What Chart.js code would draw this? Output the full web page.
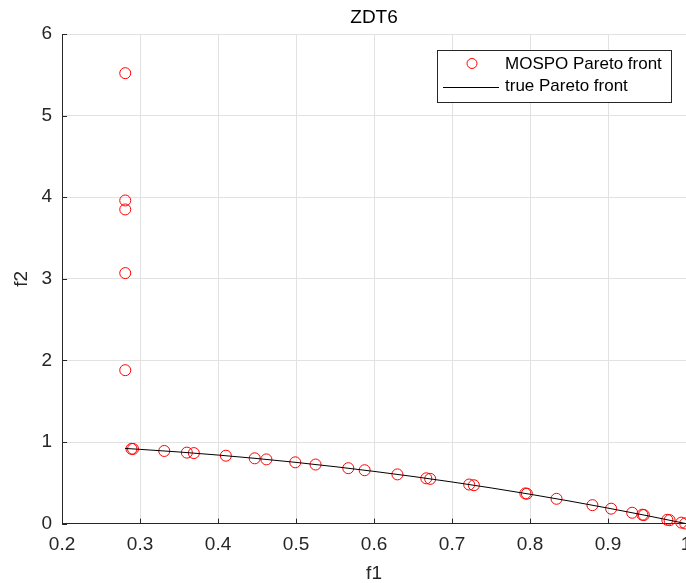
<!DOCTYPE html>
<html>
<head>
<meta charset="utf-8">
<title>ZDT6</title>
<script src="https://cdn.jsdelivr.net/npm/chart.js@4.4.1/dist/chart.umd.min.js"></script>
<style>
  html, body { margin: 0; padding: 0; background: #fff; overflow: hidden; }
  #wrap { position: relative; width: 720px; height: 583px; }
</style>
</head>
<body>
<div id="wrap"><canvas id="zdt6" width="720" height="583"></canvas></div>
<script>
// MOSPO solutions (f1, f2)
const moF1 = [0.281, 0.281, 0.281, 0.281, 0.281,
  0.289, 0.291, 0.331, 0.360, 0.369, 0.410, 0.447, 0.462, 0.499, 0.525,
  0.567, 0.588, 0.630, 0.667, 0.672, 0.722, 0.728, 0.794, 0.796, 0.834,
  0.880, 0.904, 0.931, 0.944, 0.946, 0.976, 0.979, 0.994, 0.999];
const moF2 = [5.52, 3.96, 3.85, 3.07, 1.88,
  0.916, 0.915, 0.890, 0.870, 0.864, 0.832, 0.800, 0.787, 0.751, 0.724,
  0.679, 0.654, 0.603, 0.555, 0.548, 0.479, 0.470, 0.370, 0.366, 0.304,
  0.226, 0.183, 0.133, 0.109, 0.105, 0.047, 0.042, 0.012, 0.002];

// true front samples
const trueF1 = [0.2808, 0.30, 0.35, 0.40, 0.45, 0.50, 0.55, 0.60, 0.65,
  0.70, 0.75, 0.80, 0.85, 0.90, 0.95, 1.00];
const trueF2 = [0.9212, 0.91, 0.8775, 0.84, 0.7975, 0.75, 0.6975, 0.64, 0.5775,
  0.51, 0.4375, 0.36, 0.2775, 0.19, 0.0975, 0];

const xTickLabels = ['0.2', '0.3', '0.4', '0.5', '0.6', '0.7', '0.8', '0.9', '1'];
const yTickLabels = ['0', '1', '2', '3', '4', '5', '6'];

const axisColor = '#262626';
const gridColor = '#e2e2e2';

Chart.defaults.font.family = '"Liberation Sans", Arial, Helvetica, sans-serif';
Chart.defaults.color = axisColor;

// matlab-style ticks pointing into the axes
const inwardTicks = {
  id: 'inwardTicks',
  afterDatasetsDraw(chart) {
    const { ctx, chartArea, scales } = chart;
    ctx.save();
    ctx.strokeStyle = axisColor;
    ctx.lineWidth = 1;
    ctx.beginPath();
    scales.x.ticks.forEach(t => {
      const px = Math.round(scales.x.getPixelForValue(t.value)) + 0.5;
      ctx.moveTo(px, chartArea.bottom);
      ctx.lineTo(px, chartArea.bottom - 5);
    });
    scales.y.ticks.forEach(t => {
      const py = Math.round(scales.y.getPixelForValue(t.value)) + 0.5;
      ctx.moveTo(chartArea.left, py);
      ctx.lineTo(chartArea.left + 5, py);
    });
    ctx.stroke();
    ctx.restore();
  }
};

// boxed legend in the upper right corner of the axes
const legendBox = {
  id: 'legendBox',
  afterDraw(chart) {
    const { ctx, chartArea, data } = chart;
    const w = 234, h = 52;
    const x = chartArea.right - 15 - w;
    const y = chartArea.top + 16;
    ctx.save();
    ctx.fillStyle = '#fff';
    ctx.fillRect(x, y, w, h);
    ctx.strokeStyle = axisColor;
    ctx.lineWidth = 1;
    ctx.strokeRect(x + 0.5, y + 0.5, w, h);

    const r1 = y + 13.5, r2 = y + 37;
    ctx.strokeStyle = '#ff0000';
    ctx.beginPath();
    ctx.arc(x + 35, r1, 5, 0, Math.PI * 2);
    ctx.stroke();

    ctx.strokeStyle = '#000';
    ctx.beginPath();
    ctx.moveTo(x + 6, r2 + 0.5);
    ctx.lineTo(x + 62, r2 + 0.5);
    ctx.stroke();

    ctx.fillStyle = '#000';
    ctx.font = '17px "Liberation Sans", Arial, sans-serif';
    ctx.textBaseline = 'middle';
    ctx.fillText(data.datasets[0].label, x + 68, r1 + 0.5);
    ctx.fillText(data.datasets[1].label, x + 68, r2 - 0.5);
    ctx.restore();
  }
};

new Chart(document.getElementById('zdt6'), {
  type: 'scatter',
  data: {
    datasets: [
      {
        label: 'MOSPO Pareto front',
        data: moF1.map((v, i) => ({ x: v, y: moF2[i] })),
        pointStyle: 'circle',
        pointRadius: 5.5,
        pointBorderWidth: 1,
        pointBorderColor: '#ff0000',
        pointBackgroundColor: 'rgba(0,0,0,0)',
        showLine: false,
        clip: false,
        order: 1
      },
      {
        label: 'true Pareto front',
        data: trueF1.map((v, i) => ({ x: v, y: trueF2[i] })),
        showLine: true,
        borderColor: '#000',
        borderWidth: 1,
        pointRadius: 0,
        cubicInterpolationMode: 'monotone',
        order: 0
      }
    ]
  },
  options: {
    responsive: false,
    animation: false,
    devicePixelRatio: 1,
    layout: { padding: { left: 0, right: 34, top: 0, bottom: 0 } },
    plugins: {
      legend: { display: false },
      tooltip: { enabled: false },
      title: {
        display: true,
        text: 'ZDT6',
        color: '#000',
        fullSize: false,
        font: { size: 19, weight: 'normal' },
        padding: { top: 6.6, bottom: 4.6 }
      }
    },
    scales: {
      x: {
        type: 'linear',
        min: 0.2,
        max: 1,
        ticks: {
          stepSize: 0.1,
          padding: 10,
          font: { size: 19 },
          color: axisColor,
          callback: (v, i) => xTickLabels[i]
        },
        grid: { color: gridColor, drawTicks: false },
        border: { color: axisColor, width: 1 },
        title: {
          display: true,
          text: 'f1',
          color: axisColor,
          font: { size: 19, lineHeight: 0.8 },
          padding: { top: 0, bottom: 1.4 }
        }
      },
      y: {
        type: 'linear',
        min: 0,
        max: 6,
        ticks: {
          stepSize: 1,
          padding: 10,
          font: { size: 19 },
          color: axisColor,
          callback: (v, i) => yTickLabels[i]
        },
        grid: { color: gridColor, drawTicks: false },
        border: { color: axisColor, width: 1 },
        title: {
          display: true,
          text: 'f2',
          color: axisColor,
          font: { size: 19, lineHeight: 1 },
          padding: { top: 12.5, bottom: 0 }
        }
      }
    }
  },
  plugins: [inwardTicks, legendBox]
});
</script>
</body>
</html>
